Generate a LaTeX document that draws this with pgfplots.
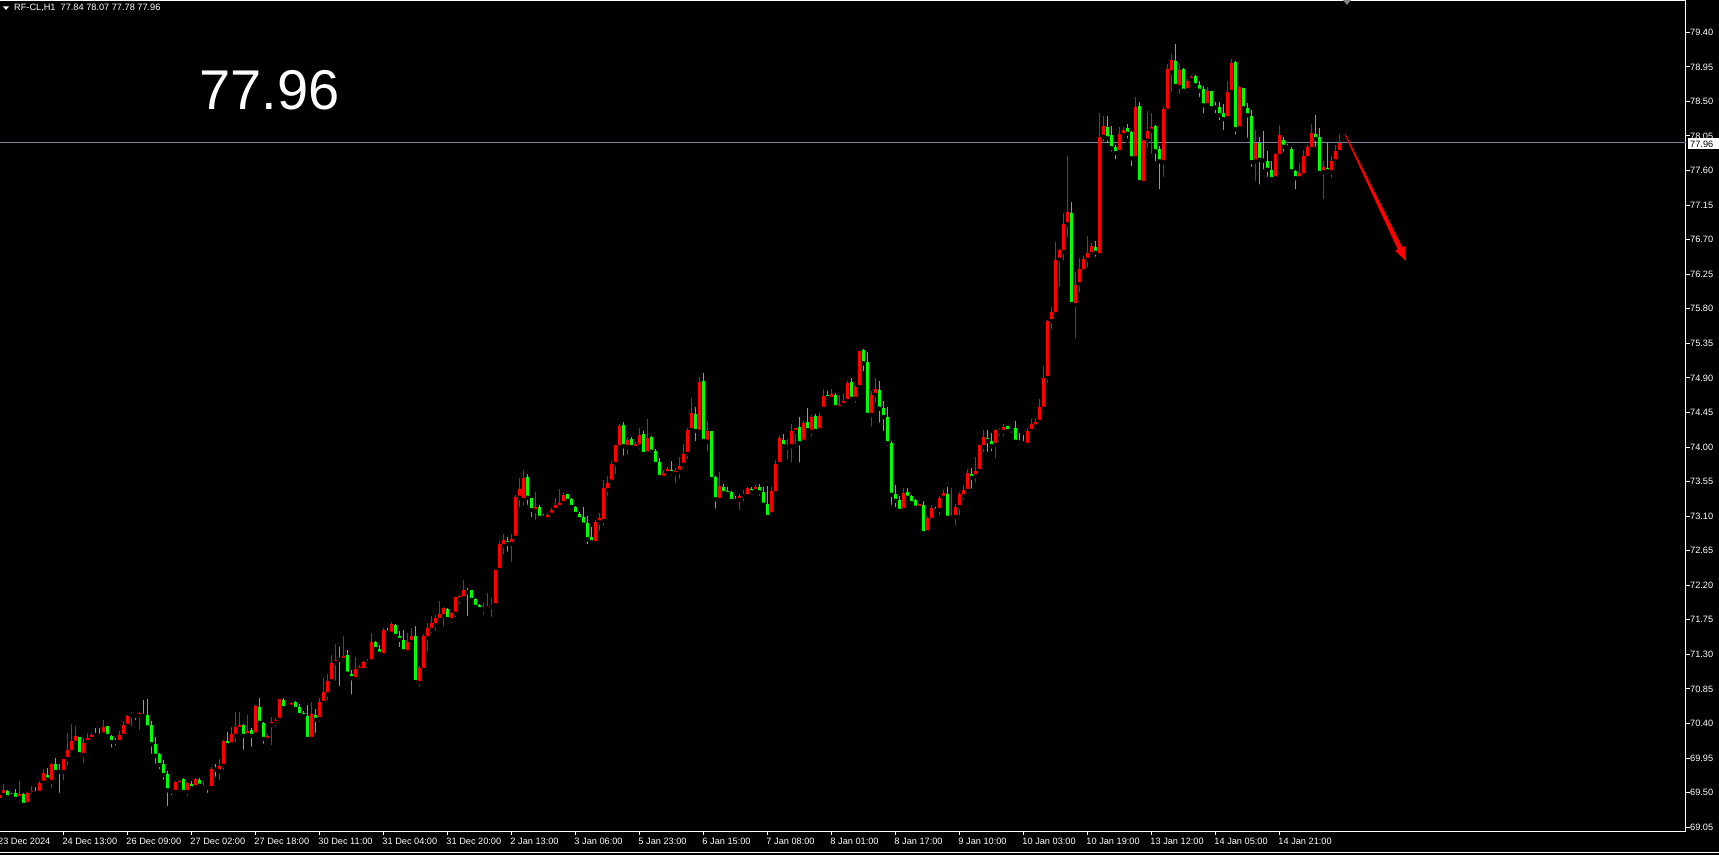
\documentclass[border=0pt]{standalone}
\usepackage{fontspec}
\setmainfont{Liberation Sans}
\usepackage{pgfplots}
\usepackage{pgfplotstable}
\pgfplotsset{compat=1.18}
\usetikzlibrary{arrows.meta}
\definecolor{upred}{RGB}{255,0,0}
\definecolor{dngreen}{RGB}{0,255,0}
\definecolor{bidline}{RGB}{119,136,153}

% bullish candles (drawn red): x o h l c
\pgfplotstableread{
x o h l c
-1 69.43 69.49 69.40 69.47
0 69.47 69.61 69.45 69.53
4 69.43 69.65 69.42 69.48
6 69.35 69.51 69.34 69.49
7 69.49 69.59 69.46 69.52
9 69.50 69.65 69.47 69.63
10 69.63 69.81 69.60 69.75
12 69.64 69.88 69.53 69.87
15 69.77 69.94 69.63 69.94
16 69.94 70.28 69.83 70.06
17 70.03 70.39 70.00 70.17
18 70.15 70.37 70.10 70.24
20 69.99 70.21 69.86 70.15
21 70.16 70.27 70.15 70.21
22 70.20 70.28 70.16 70.25
25 70.26 70.45 70.25 70.35
29 70.16 70.30 70.11 70.25
30 70.24 70.43 70.21 70.38
31 70.37 70.51 70.36 70.50
32 70.50 70.55 70.34 70.51
34 70.50 70.55 70.29 70.54
43 69.51 69.65 69.50 69.64
44 69.61 69.66 69.56 69.65
46 69.51 69.64 69.43 69.63
48 69.57 69.69 69.53 69.68
50 69.56 69.65 69.55 69.59
52 69.56 69.83 69.55 69.81
54 69.78 69.94 69.63 69.85
55 69.85 70.19 69.77 70.17
57 70.13 70.35 70.08 70.26
58 70.24 70.55 70.13 70.35
59 70.33 70.55 70.32 70.38
61 70.25 70.51 70.19 70.30
63 70.26 70.64 70.24 70.63
66 70.19 70.26 70.15 70.24
67 70.38 70.49 70.09 70.42
68 70.41 70.47 70.33 70.45
69 70.45 70.72 70.39 70.72
71 70.62 70.65 70.56 70.64
72 70.62 70.68 70.58 70.67
77 70.20 70.68 70.19 70.52
79 70.46 70.73 70.39 70.68
80 70.67 70.99 70.66 70.81
81 70.78 71.05 70.68 70.95
82 70.95 71.29 70.93 71.19
83 71.19 71.44 70.93 71.23
85 71.23 71.54 71.22 71.28
88 70.98 71.27 70.97 71.11
89 71.10 71.16 71.07 71.13
90 71.10 71.21 71.05 71.20
91 71.19 71.24 71.18 71.21
92 71.21 71.58 71.20 71.46
95 71.29 71.64 71.28 71.62
97 71.57 71.72 71.55 71.70
101 71.33 71.58 71.32 71.46
102 71.46 71.64 71.40 71.54
104 70.93 71.15 70.85 71.12
105 71.10 71.57 71.09 71.54
106 71.51 71.71 71.31 71.64
107 71.62 71.80 71.55 71.71
108 71.68 71.81 71.58 71.77
109 71.75 72.00 71.72 71.83
110 71.80 71.92 71.64 71.90
112 71.75 71.85 71.68 71.84
113 71.83 72.05 71.76 72.05
114 72.02 72.07 71.93 72.06
115 72.03 72.27 72.01 72.14
120 71.88 71.97 71.79 71.90
121 71.90 72.10 71.89 71.93
122 71.92 72.03 71.76 71.94
123 71.94 72.40 71.90 72.40
124 72.40 72.78 72.39 72.74
125 72.71 72.87 72.58 72.79
127 72.74 72.87 72.48 72.80
128 72.82 73.38 72.79 73.35
129 73.34 73.60 73.19 73.45
130 73.31 73.70 73.21 73.60
133 73.17 73.41 73.02 73.22
136 73.06 73.14 73.05 73.12
137 73.12 73.21 73.08 73.18
138 73.18 73.34 73.17 73.25
139 73.22 73.45 73.18 73.27
140 73.27 73.40 73.23 73.38
148 72.75 73.05 72.69 73.02
149 73.02 73.14 72.88 73.08
150 73.04 73.57 72.95 73.47
151 73.44 73.62 73.34 73.53
152 73.55 73.82 73.53 73.78
153 73.78 74.03 73.62 74.03
154 74.00 74.30 73.96 74.27
156 74.00 74.12 73.87 74.09
158 73.99 74.07 73.95 74.04
159 74.01 74.25 73.94 74.16
161 73.92 74.37 73.91 74.12
165 73.60 73.70 73.57 73.66
166 73.66 73.74 73.60 73.71
168 73.65 73.73 73.51 73.69
169 73.68 73.87 73.56 73.75
170 73.77 74.04 73.69 73.91
171 73.91 74.25 73.82 74.22
172 74.22 74.64 74.20 74.44
174 74.20 74.91 74.19 74.85
176 74.07 74.34 73.92 74.21
179 73.31 73.68 73.28 73.49
184 73.31 73.39 73.15 73.36
185 73.36 73.44 73.27 73.39
186 73.36 73.48 73.30 73.47
188 73.43 73.51 73.39 73.48
192 73.13 73.48 73.08 73.43
193 73.40 73.83 73.36 73.78
194 73.78 74.14 73.77 74.12
196 73.99 74.10 73.81 74.01
197 74.01 74.30 73.77 74.21
198 74.20 74.25 74.01 74.25
200 74.07 74.34 74.04 74.31
202 74.20 74.42 74.11 74.39
204 74.22 74.44 74.20 74.40
205 74.50 74.76 74.48 74.66
207 74.63 74.76 74.59 74.69
209 74.51 74.68 74.47 74.55
210 74.55 74.69 74.51 74.60
211 74.60 74.86 74.59 74.83
213 74.63 74.81 74.55 74.78
214 74.78 75.25 74.76 75.25
217 74.42 74.73 74.24 74.68
218 74.68 74.90 74.55 74.76
225 73.18 73.47 73.14 73.40
229 73.21 73.26 73.17 73.26
231 72.89 73.10 72.88 73.08
232 73.05 73.25 73.04 73.21
234 73.18 73.36 73.09 73.34
235 73.34 73.44 73.28 73.40
237 73.08 73.47 73.05 73.09
238 73.09 73.26 72.95 73.22
239 73.22 73.41 73.08 73.39
240 73.36 73.51 73.28 73.44
241 73.43 73.71 73.41 73.66
243 73.62 73.87 73.51 73.69
244 73.69 74.03 73.66 74.03
245 74.00 74.22 73.91 74.13
248 74.03 74.23 73.83 74.22
249 74.20 74.25 74.12 74.22
250 74.20 74.30 74.11 74.26
256 74.03 74.25 74.02 74.21
257 74.21 74.37 74.20 74.30
258 74.27 74.38 74.20 74.33
259 74.33 74.63 74.31 74.52
260 74.50 75.06 74.43 74.90
261 74.90 75.65 74.81 75.64
262 75.64 75.82 75.51 75.76
263 75.73 76.67 75.72 76.44
264 76.44 76.58 76.06 76.57
265 76.54 77.05 76.40 76.90
266 76.90 77.79 76.70 77.06
268 75.85 76.28 75.39 76.11
269 76.12 76.46 75.99 76.32
270 76.29 76.49 76.28 76.45
271 76.44 76.75 76.31 76.53
272 76.51 76.66 76.47 76.62
274 76.50 78.35 76.49 78.04
275 78.04 78.31 77.93 78.18
279 77.84 78.17 77.78 78.08
280 78.06 78.17 78.05 78.13
283 77.76 78.56 77.70 78.43
285 77.44 78.00 77.39 78.00
286 77.99 78.38 77.87 78.12
287 78.12 78.35 77.79 78.17
290 77.71 78.43 77.49 78.40
291 78.38 78.99 78.36 78.92
292 78.88 79.12 78.60 79.04
294 78.69 79.00 78.57 78.91
296 78.65 78.79 78.58 78.77
297 78.78 78.84 78.75 78.82
301 78.45 78.69 78.40 78.64
306 78.28 78.77 78.27 78.62
307 78.62 79.05 78.57 79.00
309 78.15 78.70 78.10 78.69
313 77.72 78.13 77.44 77.96
318 77.50 77.83 77.44 77.82
319 77.79 78.19 77.76 78.06
324 77.50 77.70 77.49 77.57
325 77.54 77.87 77.48 77.79
326 77.76 77.93 77.72 77.91
327 77.88 78.21 77.84 78.09
330 77.58 77.72 77.20 77.65
332 77.58 77.79 77.48 77.72
333 77.72 77.93 77.65 77.85
334 77.84 78.07 77.78 77.96
}\upbars

% bearish candles (drawn green): x o h l c
\pgfplotstableread{
x o h l c
1 69.52 69.53 69.40 69.44
2 69.46 69.49 69.42 69.45
3 69.50 69.55 69.40 69.42
5 69.48 69.49 69.34 69.34
8 69.51 69.57 69.47 69.49
11 69.73 69.82 69.63 69.67
13 69.87 69.95 69.76 69.77
14 69.78 69.87 69.47 69.77
19 70.22 70.23 69.95 70.00
23 70.26 70.34 70.21 70.25
24 70.25 70.34 70.18 70.24
26 70.37 70.37 70.22 70.24
27 70.24 70.25 70.06 70.16
28 70.17 70.21 70.09 70.16
33 70.51 70.52 70.42 70.50
35 70.52 70.71 70.46 70.50
36 70.51 70.72 70.34 70.35
37 70.38 70.43 69.98 70.13
38 70.13 70.22 69.85 69.98
39 70.00 70.01 69.78 69.86
40 69.87 69.93 69.64 69.73
41 69.74 69.78 69.30 69.53
42 69.53 69.54 69.44 69.51
45 69.68 69.69 69.50 69.51
47 69.61 69.65 69.53 69.56
49 69.66 69.69 69.56 69.59
51 69.57 69.59 69.47 69.56
53 69.82 69.87 69.68 69.80
56 70.17 70.29 70.09 70.12
60 70.38 70.39 70.03 70.24
62 70.32 70.34 70.07 70.24
64 70.62 70.73 70.38 70.41
65 70.41 70.42 70.11 70.20
70 70.71 70.73 70.59 70.60
73 70.68 70.69 70.58 70.59
74 70.62 70.65 70.49 70.51
75 70.54 70.56 70.45 70.50
76 70.50 70.64 70.19 70.20
78 70.51 70.59 70.25 70.45
84 71.24 71.40 70.86 71.23
86 71.29 71.36 71.02 71.05
87 71.05 71.10 70.75 70.99
93 71.46 71.47 71.33 71.37
94 71.37 71.42 71.29 71.31
96 71.60 71.64 71.53 71.58
98 71.68 71.70 71.53 71.54
99 71.54 71.60 71.37 71.49
100 71.49 71.62 71.32 71.34
103 71.54 71.67 70.93 70.94
111 71.89 71.90 71.75 71.76
116 72.13 72.16 71.77 72.11
117 72.14 72.14 71.97 72.01
118 72.02 72.03 71.88 71.92
119 71.94 71.95 71.87 71.89
126 72.78 72.83 72.61 72.74
131 73.61 73.65 73.22 73.34
132 73.34 73.34 73.06 73.18
134 73.22 73.25 73.04 73.08
135 73.09 73.13 73.04 73.08
141 73.39 73.39 73.29 73.30
142 73.32 73.33 73.19 73.22
143 73.22 73.23 73.10 73.13
144 73.13 73.15 73.05 73.06
145 73.09 73.22 72.96 72.99
146 73.01 73.10 72.71 72.80
147 72.83 72.96 72.71 72.76
155 74.29 74.33 73.86 74.01
157 74.10 74.13 73.96 74.00
160 74.17 74.21 73.90 73.91
162 74.13 74.14 73.90 73.94
163 73.95 73.97 73.77 73.78
164 73.81 73.86 73.60 73.61
167 73.70 73.82 73.60 73.66
173 74.43 74.52 74.05 74.21
175 74.86 74.96 74.03 74.08
177 74.21 74.21 73.58 73.58
178 73.61 73.62 73.17 73.32
180 73.48 73.52 73.36 73.40
181 73.43 73.48 73.35 73.39
182 73.41 73.43 73.26 73.30
183 73.31 73.36 73.26 73.30
187 73.45 73.48 73.36 73.41
189 73.48 73.52 73.34 73.41
190 73.41 73.48 73.22 73.25
191 73.26 73.49 73.08 73.09
195 74.09 74.17 73.96 74.01
199 74.26 74.39 73.77 74.05
201 74.33 74.51 74.21 74.22
203 74.40 74.43 74.18 74.21
206 74.68 74.73 74.61 74.64
208 74.68 74.70 74.48 74.52
212 74.85 74.90 74.61 74.63
215 75.26 75.27 74.96 75.09
216 75.11 75.24 74.37 74.42
219 74.74 74.86 74.29 74.50
220 74.51 74.60 74.18 74.39
221 74.39 74.52 73.99 74.05
222 74.05 74.08 73.22 73.38
223 73.39 73.51 73.19 73.30
224 73.31 73.36 73.13 73.17
226 73.41 73.47 73.30 73.34
227 73.36 73.37 73.25 73.27
228 73.31 73.32 73.19 73.21
230 73.25 73.30 72.82 72.88
233 73.19 73.22 73.12 73.17
236 73.39 73.48 73.07 73.08
242 73.65 73.73 73.43 73.60
246 74.12 74.22 73.91 74.08
247 74.08 74.18 73.92 74.01
251 74.27 74.28 74.16 74.21
252 74.24 74.25 74.16 74.23
253 74.25 74.34 74.03 74.07
254 74.07 74.18 74.00 74.06
255 74.06 74.16 74.01 74.05
267 77.05 77.19 75.86 75.86
273 76.60 76.68 76.45 76.53
276 78.17 78.31 77.93 78.02
277 78.06 78.18 77.82 77.89
278 77.91 77.93 77.72 77.83
281 78.15 78.21 77.99 78.08
282 78.10 78.11 77.63 77.76
284 78.44 78.49 77.43 77.45
288 78.18 78.19 77.69 77.85
289 77.88 77.92 77.33 77.72
293 79.03 79.25 78.69 78.70
295 78.92 78.93 78.62 78.64
298 78.83 78.84 78.65 78.71
299 78.71 78.77 78.53 78.64
300 78.66 78.70 78.32 78.45
302 78.64 78.64 78.41 78.41
303 78.44 78.49 78.32 78.42
304 78.43 78.49 78.23 78.32
305 78.35 78.47 78.10 78.27
308 79.01 79.03 78.04 78.14
310 78.68 78.68 78.40 78.41
311 78.41 78.48 78.00 78.32
312 78.31 78.39 77.62 77.71
314 77.96 78.04 77.39 77.74
315 77.74 78.12 77.59 77.73
316 77.72 77.85 77.49 77.61
317 77.61 77.72 77.43 77.49
320 78.00 78.04 77.82 77.91
321 77.91 77.95 77.85 77.90
322 77.88 77.91 77.57 77.59
323 77.59 77.61 77.33 77.50
328 78.08 78.32 77.88 78.01
329 78.04 78.15 77.56 77.57
331 77.63 77.97 77.53 77.59
}\dnbars

\begin{document}
\begin{tikzpicture}[x=1pt,y=1pt]
\useasboundingbox (0,0) rectangle (1719,855);
\fill[black] (0,0) rectangle (1719,855);
\begin{axis}[
  at={(0pt,24pt)}, anchor=south west,
  scale only axis, width=1686pt, height=830pt,
  xmin=-0.825, xmax=420.675, ymin=69.0003, ymax=79.8076,
  axis x line*=bottom, axis y line*=right,
  axis line style={-, white, line width=1pt},
  tick align=outside, major tick length=4pt,
  every tick/.style={white, line width=1pt},
  ytick={69.05,69.50,69.95,70.40,70.85,71.30,71.75,72.20,72.65,73.10,73.55,74.00,74.45,74.90,75.35,75.80,76.25,76.70,77.15,77.60,78.05,78.50,78.95,79.40},
  yticklabel style={white, font=\fontsize{9.2}{10}\selectfont, anchor=west, inner sep=0pt, xshift=0pt,
    /pgf/number format/fixed, /pgf/number format/fixed zerofill, /pgf/number format/precision=2,
    /pgf/number format/assume math mode=true},
  xtick={15,31,47,63,79,95,111,127,143,159,175,191,207,223,239,255,271,287,303,319},
  xticklabels={24 Dec 13:00,26 Dec 09:00,27 Dec 02:00,27 Dec 18:00,30 Dec 11:00,31 Dec 04:00,31 Dec 20:00,2 Jan 13:00,3 Jan 06:00,5 Jan 23:00,6 Jan 15:00,7 Jan 08:00,8 Jan 01:00,8 Jan 17:00,9 Jan 10:00,10 Jan 03:00,10 Jan 19:00,13 Jan 12:00,14 Jan 05:00,14 Jan 21:00},
  xticklabel style={white, font=\fontsize{9.2}{10}\selectfont, anchor=base west, inner sep=0pt, xshift=-1pt, yshift=-9pt},
  clip=true,
]
% bid line
\addplot[bidline, line width=1pt, forget plot] coordinates {(-0.825,77.96) (420.675,77.96)};
% wicks
\addplot[only marks, mark=none, forget plot,
  error bars/.cd, y dir=plus, y explicit, error mark=none,
  error bar style={draw=upred, line width=1pt}]
  table[x=x, y=l, y error plus expr=\thisrow{h}-\thisrow{l}] {\upbars};
\addplot[only marks, mark=none, forget plot,
  error bars/.cd, y dir=plus, y explicit, error mark=none,
  error bar style={draw=dngreen, line width=1pt}]
  table[x=x, y=l, y error plus expr=\thisrow{h}-\thisrow{l}] {\dnbars};
% bodies
\addplot[only marks, mark=none, forget plot,
  error bars/.cd, y dir=plus, y explicit, error mark=none,
  error bar style={draw=upred, line width=3pt}]
  table[x=x, y=o, y error plus expr={max(\thisrow{c}-\thisrow{o},0.012)}] {\upbars};
\addplot[only marks, mark=none, forget plot,
  error bars/.cd, y dir=plus, y explicit, error mark=none,
  error bar style={draw=dngreen, line width=3pt}]
  table[x=x, y=c, y error plus expr={max(\thisrow{o}-\thisrow{c},0.012)}] {\dnbars};
% frame top line
\draw[white, line width=1pt] (rel axis cs:0,1) -- (rel axis cs:1,1);
\end{axis}
% first date label
\node[white, font=\fontsize{9.2}{10}\selectfont, anchor=base west, inner sep=0pt] at (-2,11) {23 Dec 2024};
% header
\fill[white] (3,848.5) -- (9,848.5) -- (6,845) -- cycle;
\node[white, font=\fontsize{9.2}{10}\selectfont, anchor=west, inner sep=0pt] at (14,846.7) {RF-CL,H1\ \ 77.84 78.07 77.78 77.96};
% big price
\node[white, font=\fontsize{56}{60}\selectfont, anchor=base west, inner sep=0pt] at (199,745) {77.96};
% price label on the right
\fill[white] (1688,705.5) rectangle (1719,716.5);
\node[black, font=\fontsize{9.2}{10}\selectfont, anchor=west, inner sep=0pt] at (1690,711) {77.96};
% shift marker
\fill[gray] (1343,855) -- (1351,855) -- (1347,850) -- cycle;
% trend arrow (tapered)
\fill[upred] (1345.45,721.22) -- (1402.25,607.79) -- (1404.96,609.09) -- (1406,594) -- (1395.04,604.31) -- (1397.75,605.62) -- (1344.55,720.78) -- cycle;
% bottom border
\draw[white, line width=1pt] (0,3) -- (1719,3);
\end{tikzpicture}
\end{document}
